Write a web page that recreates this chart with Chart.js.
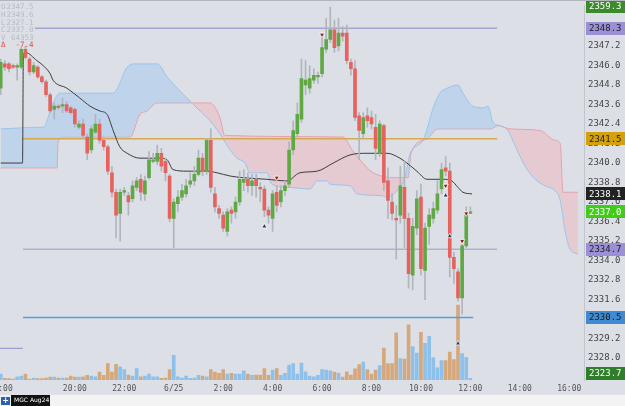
<!DOCTYPE html>
<html><head><meta charset="utf-8">
<script src="https://cdn.jsdelivr.net/npm/chart.js@4.4.1/dist/chart.umd.min.js"></script>
<style>html,body{margin:0;padding:0;background:#dce0e6;overflow:hidden}canvas{display:block}</style>
</head><body>
<canvas id="c" width="625" height="406"></canvas>
<script>
// ---- data (10-minute bars, x = bar index) ----
const opens=[2344.6,2346.1,2346.1,2346.0,2345.9,2345.9,2347.0,2346.4,2345.6,2345.9,
2345.3,2345.0,2344.2,2343.3,2343.5,2343.5,2343.6,2343.4,2343.3,2342.2,
2342.4,2341.6,2340.8,2341.9,2342.4,2341.4,2341.0,2339.4,2338.2,2336.9,
2338.2,2338.0,2337.8,2338.5,2339.0,2338.1,2339.1,2340.1,2340.1,2340.6,
2340.1,2339.2,2336.6,2337.5,2337.9,2338.1,2338.7,2338.9,2339.3,2340.3,
2339.5,2341.4,2338.1,2337.2,2336.8,2335.8,2337.1,2337.0,2337.6,2338.8,
2339.0,2338.6,2339.0,2338.5,2338.4,2337.1,2336.6,2338.2,2337.6,2338.3,
2338.7,2340.8,2341.8,2342.7,2344.8,2344.6,2345.1,2345.3,2345.5,2347.0,
2347.6,2348.2,2347.2,2348.0,2348.0,2346.2,2345.8,2342.9,2341.8,2342.9,
2342.8,2342.2,2340.6,2342.3,2338.9,2337.6,2336.6,2336.8,2338.5,2336.6,
2333.1,2336.0,2337.9,2333.4,2336.1,2336.6,2337.1,2338.4,2339.7,2339.5,
2334.2,2333.3,2331.7,2334.9,2336.9];
const highs=[2346.4,2346.3,2346.2,2346.1,2346.1,2347.1,2347.2,2346.5,2346.2,2346.0,
2345.4,2345.1,2344.3,2343.7,2343.6,2344.0,2343.8,2343.5,2343.4,2342.6,
2342.7,2341.8,2342.3,2343.0,2342.7,2341.6,2341.1,2339.8,2338.4,2338.4,
2338.5,2338.2,2338.9,2339.1,2339.3,2339.2,2340.7,2340.6,2341.1,2340.9,
2340.3,2339.3,2337.8,2338.3,2338.7,2339.0,2339.4,2339.8,2340.8,2340.6,
2341.5,2342.1,2338.5,2337.4,2337.0,2337.2,2337.3,2337.9,2339.5,2339.6,
2339.4,2339.3,2339.3,2338.8,2338.6,2337.3,2338.3,2338.6,2338.6,2338.9,
2341.3,2342.6,2343.7,2346.4,2346.3,2346.0,2345.8,2345.6,2347.9,2348.9,
2349.6,2348.8,2348.9,2348.4,2348.5,2346.4,2346.3,2343.1,2343.1,2343.4,
2343.2,2343.0,2342.6,2342.4,2339.7,2338.1,2337.4,2339.8,2340.1,2336.9,
2336.6,2338.3,2338.7,2336.3,2337.2,2337.6,2338.9,2340.0,2340.4,2340.0,
2334.5,2333.5,2335.2,2337.3,2337.3];
const lows=[2344.2,2345.7,2345.6,2345.8,2345.1,2345.8,2346.4,2345.4,2345.5,2345.2,
2344.9,2344.1,2343.1,2342.7,2343.3,2343.1,2343.1,2343.0,2342.2,2342.1,
2341.5,2340.2,2340.6,2341.8,2341.2,2340.8,2339.3,2337.9,2335.4,2335.2,
2338.0,2336.8,2337.6,2338.3,2337.7,2337.7,2339.0,2340.0,2339.9,2339.5,
2338.9,2336.4,2334.8,2337.0,2337.7,2337.9,2338.5,2338.6,2339.2,2339.2,
2339.3,2338.2,2337.0,2336.6,2335.8,2335.5,2336.3,2336.6,2337.4,2338.3,
2338.2,2338.0,2337.9,2337.6,2336.7,2336.3,2335.8,2337.0,2337.3,2338.0,
2338.5,2340.5,2341.6,2342.5,2344.2,2344.3,2344.9,2344.9,2345.3,2346.8,
2347.4,2346.8,2346.9,2347.5,2346.1,2345.4,2342.6,2340.2,2341.5,2342.2,
2342.1,2340.2,2340.4,2338.3,2336.6,2336.5,2334.1,2336.3,2334.8,2332.3,
2332.2,2335.6,2333.1,2331.6,2335.0,2336.3,2336.9,2338.1,2339.2,2333.0,
2332.6,2331.5,2330.7,2334.8,2336.9];
const closes=[2346.2,2345.9,2345.8,2345.9,2346.0,2347.0,2346.5,2345.6,2346.0,2345.3,
2345.0,2344.2,2343.2,2343.5,2343.4,2343.6,2343.2,2343.1,2342.4,2342.4,
2341.7,2340.6,2342.1,2342.4,2341.4,2341.0,2339.5,2338.2,2336.8,2338.2,
2338.3,2337.6,2338.6,2338.9,2338.2,2338.9,2340.2,2340.2,2340.6,2339.8,
2339.4,2336.6,2337.6,2337.9,2338.3,2338.6,2338.9,2339.3,2340.3,2339.5,
2341.4,2338.5,2337.3,2336.9,2336.0,2337.0,2336.9,2337.6,2339.0,2339.0,
2338.6,2338.9,2338.6,2338.4,2337.1,2336.8,2338.1,2337.4,2338.3,2338.6,
2340.8,2342.0,2343.0,2345.2,2345.1,2345.2,2345.4,2345.4,2347.1,2347.6,
2348.2,2347.1,2348.0,2347.8,2346.3,2345.8,2342.8,2342.0,2342.8,2342.6,
2342.4,2340.9,2342.4,2338.8,2337.7,2336.9,2336.5,2338.6,2336.6,2333.2,
2336.1,2337.8,2333.5,2336.0,2336.8,2337.2,2338.1,2339.6,2339.5,2334.2,
2333.5,2331.7,2334.9,2336.8,2337.0];
const volumes=[156,45,40,26,87,105,158,26,53,40,
40,53,79,79,53,53,53,105,79,79,
87,124,105,87,210,124,439,210,421,350,
281,132,105,308,87,105,158,87,87,45,
53,281,658,87,53,105,45,53,124,105,
87,281,210,176,281,158,176,158,158,245,
158,124,132,132,308,124,263,308,124,176,
395,439,158,455,218,105,87,124,281,263,
245,210,176,79,218,132,297,413,481,281,
158,263,387,850,439,439,1262,571,560,1473,
894,718,1270,981,1165,597,323,518,518,744,
544,1999,702,605,45];

const maIndex=[0,5.3,5.5,6,8.8,10.3,12,12.7,16.1,19.2,21.7,24.1,25.8,27.3,28.9,30.7,33.8,38.7,40.4,41.8,45.2,50.1,52.5,55.7,58.8,64.6,69.5,72.6,76.8,80.7,84.8,88.9,93.8,96.9,98.6,101,103.5,107.4,109.5,111,112.2,114.4];
const maValues=[2340.0,2340.0,2346.7,2346.8,2346.3,2346.0,2345.5,2345.1,2344.6,2344.0,2343.5,2343.2,2343.0,2342.0,2341.0,2340.6,2340.3,2340.3,2340.2,2339.6,2339.5,2339.5,2339.4,2339.2,2339.1,2339.0,2338.9,2339.4,2339.5,2340.0,2340.5,2340.6,2340.6,2340.3,2340.0,2339.5,2339.0,2339.0,2338.9,2338.5,2338.2,2338.1];

const spanAIndex=[0,9.5,10.3,12.7,14.4,18.5,27.3,30.7,32.1,38,40.4,46,48.4,50.8,53.2,55.7,57.4,59.3,60.5,64.6,65.8,70.2,75.1,76.8,79.2,79.9,84.8,86.5,92.1,94,96.2,98.1,99.4,102.5,105,106.6,108.3,111,112.2,114.6,117.1,118.3,119.5,121.2,123.1,124.8,127.3,129.7,132.1,134.5,135.8,137,138.2,140.1];
const spanAValues=[2342.1,2342.2,2342.2,2343.7,2344.3,2344.3,2344.3,2345.9,2346.1,2346.1,2345.3,2343.8,2343.2,2342.6,2341.8,2340.8,2340.3,2340.0,2339.4,2339.4,2338.7,2338.5,2338.4,2338.9,2338.9,2338.7,2338.6,2338.1,2338.0,2337.9,2338.3,2339.1,2340.6,2341.4,2343.4,2344.3,2344.6,2344.8,2344.3,2343.5,2343.4,2343.5,2342.5,2342.3,2342.0,2341.1,2339.8,2339.0,2338.6,2338.3,2337.7,2335.8,2334.7,2334.4];
const spanBIndex=[0,13.7,13.9,15.1,31.4,33.8,35.5,37.9,46,50.8,53.2,54.4,83.1,85.3,87.2,90.4,96.9,98.9,99.6,103.5,106.1,118.8,120.7,123.6,130.9,134.5,135.8,136.5,140.1];
const spanBValues=[2339.7,2339.7,2341.2,2341.6,2341.6,2343.0,2343.2,2343.7,2343.7,2343.7,2342.8,2341.7,2341.6,2340.8,2340.2,2339.4,2339.1,2339.1,2340.6,2341.5,2342.1,2342.1,2342.3,2342.1,2342.0,2341.4,2341.2,2338.2,2338.2];

const levelValues=[2348.3,2341.5,2334.7,2330.5,2328.6];
const levelStart=[8.3,5.4,5.4,5.4,-0.2];
const levelEnd=[120.5,120.5,120.5,114.7,5.4];

const markerDownIndex=[67,78,108,112,113];
const markerDownPrice=[2339.1,2347.9,2338.6,2335.2,2336.9];
const markerUpIndex=[64,108,109,111];
const markerUpPrice=[2336.1,2338.0,2335.5,2328.9];

const xTickIndex=[18,30,42,54,66,78,90,102,114,126,138,0];
const xTickLabels=['20:00','22:00','6/25','2:00','4:00','6:00','8:00','10:00','12:00','14:00','16:00','16:00'];
const yTickValues=[2326.8,2328.0,2329.2,2330.4,2331.6,2332.8,2334.0,2335.2,2336.4,2337.6,2338.8,2340.0,2341.2,2342.4,2343.6,2344.8,2346.0,2347.2,2348.4,2349.6];

const priceTagValues=[2359.3,2348.3,2341.5,maValues[maValues.length-1],closes[closes.length-1],2334.7,2330.5,2323.7];
const headerKeys=['O','H','L','C','V','\u0394'];
const headerValues=['2347.5','2349.6','2327.1','2337.0','64353','-7.4'];
const symbolName='MGC Aug24';

// ---- styles ----
const tagBg=['#3b8a2c','#9b90d5','#d3a10c','#222222','#40cc18','#9b90d5','#3f8ad0','#2f7e2a'];
const tagFg=['#ffffff','#222222','#222222','#ffffff','#ffffff','#222222','#1a1a1a','#ffffff'];
const levelColors=['#a7a3d3','#d6a94e','#9c98c9','#5a9ed8','#a09cd0'];
const levelWidths=[1.5,1.5,1,1.5,1.2];

const idx=closes.map((_,i)=>i);
const isUp=i=>closes[i]>=opens[i];
const pts=(xs,ys)=>xs.map((x,i)=>({x:x,y:ys[i]}));

const datasets=[
 {type:'line',data:pts(spanBIndex,spanBValues),borderColor:'rgba(236,150,162,0.9)',borderWidth:1,pointRadius:0,fill:false,cubicInterpolationMode:'monotone',order:10},
 {type:'line',data:pts(spanAIndex,spanAValues),borderColor:'rgba(150,196,236,0.95)',borderWidth:1,pointRadius:0,cubicInterpolationMode:'monotone',
  fill:{target:0,above:'rgba(168,202,238,0.55)',below:'rgba(240,172,184,0.42)'},order:9},
 {type:'bar',yAxisID:'yv',data:idx.map(i=>({x:i,y:volumes[i]})),backgroundColor:idx.map(i=>isUp(i)?'#8dc0ea':'#d4a87c'),barThickness:3,grouped:false,order:8},
];
levelValues.forEach((v,j)=>{
 datasets.push({type:'line',data:[{x:levelStart[j],y:v},{x:levelEnd[j],y:v}],borderColor:levelColors[j],borderWidth:levelWidths[j],pointRadius:0,fill:false,order:6});
});
datasets.push(
 {type:'line',data:pts(maIndex,maValues),borderColor:'#3c3c3c',borderWidth:1,pointRadius:0,fill:false,cubicInterpolationMode:'monotone',order:5},
 {type:'bar',data:idx.map(i=>({x:i,y:[lows[i],highs[i]]})),backgroundColor:'#b0b5bc',barThickness:1,grouped:false,order:4},
 {type:'bar',data:idx.map(i=>({x:i,y:[opens[i],closes[i]]})),backgroundColor:idx.map(i=>isUp(i)?'#5fa843':'#e5625f'),barThickness:3,minBarLength:1,grouped:false,order:3},
 {type:'line',showLine:false,data:pts(markerDownIndex,markerDownPrice),pointStyle:'triangle',rotation:180,pointRadius:3,pointBackgroundColor:'#8e1b1b',pointBorderColor:'#ffffff',pointBorderWidth:0.8,order:1},
 {type:'line',showLine:false,data:pts(markerUpIndex,markerUpPrice),pointStyle:'triangle',rotation:0,pointRadius:3,pointBackgroundColor:'#1e3c62',pointBorderColor:'#ffffff',pointBorderWidth:0.8,order:1}
);

const bgPlugin={id:'bg',beforeDraw(ch){const c=ch.ctx;c.save();c.fillStyle='#dce0e6';c.fillRect(0,0,ch.width,ch.height);c.restore();}};
const overlay={id:'overlay',afterDraw(ch){
 const c=ch.ctx, ys=ch.scales.y, a=ch.chartArea;
 c.save();
 // price tags
 c.font='9px "DejaVu Sans Mono"';c.textBaseline='middle';c.textAlign='left';
 priceTagValues.forEach((v,j)=>{
  let y=ys.getPixelForValue(v);
  y=Math.max(6.5,Math.min(a.bottom-6.5,y));
  c.fillStyle=tagBg[j];c.fillRect(586,Math.round(y-6.5),39,13);
  c.fillStyle=tagFg[j];c.fillText(v.toFixed(1),589,y+0.5);
 });
 // header
 c.font='7.5px "DejaVu Sans Mono"';
 headerKeys.forEach((k,j)=>{
  const y=7.5+j*7.6;
  const red=(k==='\u0394');
  c.fillStyle=red?'#e24c4c':'#b6bbc3';
  c.textAlign='left';c.fillText(k,1,y);
  c.textAlign='right';c.fillText(headerValues[j],33.5,y);
 });
 // top border
 c.fillStyle='#b3b7bd';c.fillRect(0,0,ch.width,1);
 // bottom strip
 c.fillStyle='#f3f3f3';c.fillRect(0,395,ch.width,11);
 c.fillStyle='#2a61b5';c.fillRect(1,397,9,8);
 c.fillStyle='#ffffff';c.font='bold 8px "DejaVu Sans"';c.textAlign='center';c.fillText('+',5.5,401);
 c.fillStyle='#111111';c.fillRect(11,395,39,11);
 c.fillStyle='#ffffff';c.font='6px "DejaVu Sans"';c.textAlign='left';c.fillText(symbolName,14,400.5);
 c.restore();
}};

new Chart(document.getElementById('c'),{
 type:'line',
 data:{datasets:datasets},
 plugins:[bgPlugin,overlay],
 options:{
  responsive:false,animation:false,devicePixelRatio:1,events:[],
  layout:{autoPadding:false,padding:{left:0,right:0,top:0,bottom:10}},
  plugins:{legend:{display:false},tooltip:{enabled:false}},
  scales:{
   x:{type:'linear',min:-0.17,max:141.58,offset:false,grid:{display:false,drawTicks:false},border:{display:false},
      afterBuildTicks:s=>{s.ticks=xTickIndex.map(v=>({value:v}));},
      afterFit:s=>{s.height=16;},
      ticks:{autoSkip:false,maxRotation:0,minRotation:0,padding:4,color:'#555555',font:{family:'DejaVu Sans Mono',size:8},
        callback:(v,i)=>xTickLabels[i]}},
   y:{position:'right',min:2326.65,max:2349.70,grid:{display:false,drawTicks:true,tickLength:4},border:{display:true,color:'#c2c6cc'},
      afterBuildTicks:s=>{s.ticks=yTickValues.map(v=>({value:v}));},
      afterFit:s=>{s.width=41;},
      ticks:{padding:0,color:'#454545',font:{family:'DejaVu Sans Mono',size:9},
        callback:(v,i)=>(i===0||i===yTickValues.length-1)?null:v.toFixed(1)}},
   yv:{display:false,min:0,max:10000}
  }
 }
});
</script>
</body></html>
